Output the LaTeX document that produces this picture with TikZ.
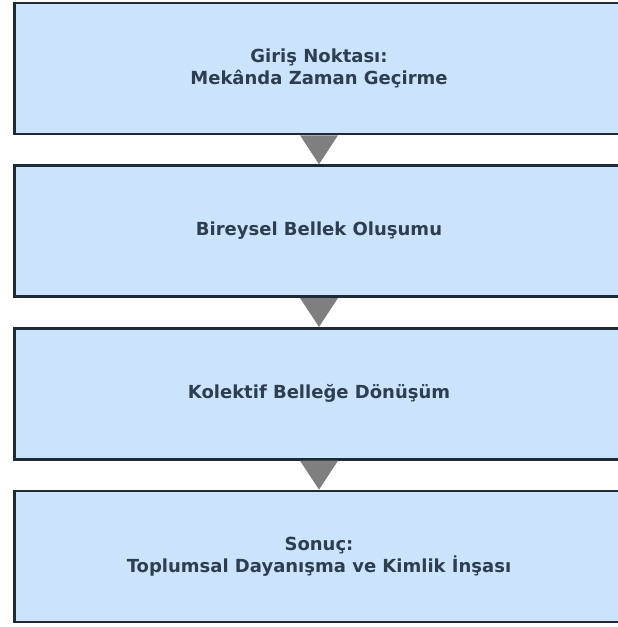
\documentclass[tikz,border=0pt]{standalone}
\usepackage{fontspec}
\setmainfont{DejaVu Sans}
\definecolor{boxfill}{HTML}{CCE4FB}
\definecolor{boxline}{HTML}{1F2A36}
\definecolor{txt}{HTML}{2C3E50}
\definecolor{arr}{HTML}{7F7F7F}
\tikzset{
  stepbox/.style={draw=boxline, fill=boxfill, line width=2.8pt, rectangle, anchor=north west,
    minimum width=640pt, minimum height=131pt, inner sep=0pt},
  lbl/.style={text=txt, font=\bfseries\fontsize{18}{22}\selectfont, align=center},
  tri/.style={fill=arr}
}
\begin{document}
\begin{tikzpicture}[x=1pt,y=-1pt]
\useasboundingbox (0,0) rectangle (618,627);
\clip (0,0) rectangle (618,627);
\fill[white] (0,0) rectangle (618,627);
\coordinate (cx) at (319,0);
\node[stepbox] (b1) at (13,1.5) {};
\node[stepbox] (b2) at (13,164.2) {};
\node[stepbox] (b3) at (13,326.9) {};
\node[stepbox] (b4) at (13,489.6) {};
\node[lbl] (t1) at (cx |- b1.center) {Giriş Noktası:\\Mekânda Zaman Geçirme};
\node[lbl] (t2) at (cx |- b2.center) {Bireysel Bellek Oluşumu};
\node[lbl] (t3) at (cx |- b3.center) {Kolektif Belleğe Dönüşüm};
\node[lbl] (t4) at (cx |- b4.center) {Sonuç:\\Toplumsal Dayanışma ve Kimlik İnşası};
\foreach \a/\b in {b1/b2,b2/b3,b3/b4}{
  \fill[tri] ([xshift=-19pt]cx |- \a.south) -- ([xshift=19pt]cx |- \a.south) -- (cx |- \b.north) -- cycle;
}
\end{tikzpicture}
\end{document}
